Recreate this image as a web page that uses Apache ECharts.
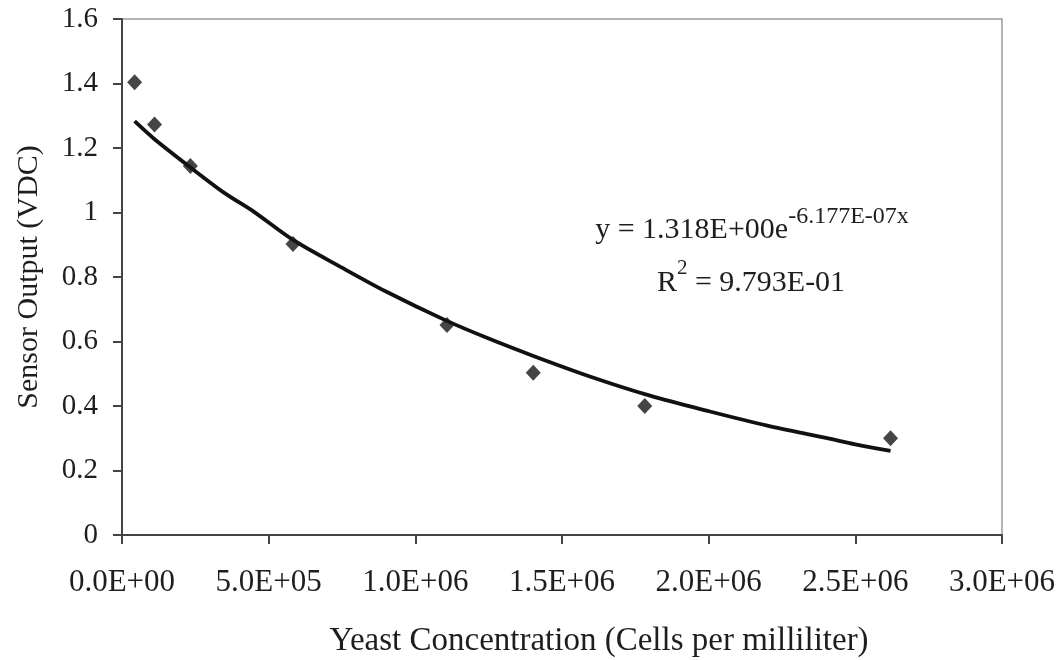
<!DOCTYPE html>
<html>
<head>
<meta charset="utf-8">
<script src="https://cdn.jsdelivr.net/npm/echarts@6/dist/echarts.min.js"></script>
<style>
html,body{margin:0;padding:0;background:#fff;}
#chart{width:1063px;height:660px;}
</style>
</head>
<body>
<div id="chart"></div>
<script>
// Measured data points (x: cells per mL, y: VDC)
const concX = [43000, 111000, 233000, 583000, 1108000, 1402000, 1782000, 2620000];
const outputY = [1.404, 1.273, 1.144, 0.902, 0.651, 0.503, 0.400, 0.300];

// Trendline
const trendX = [43000, 110000, 233000, 350000, 450000, 583000, 750000, 900000, 1100000, 1250000, 1400000, 1600000, 1800000, 2000000, 2200000, 2400000, 2500000, 2620000];
const trendY = [1.283, 1.228, 1.140, 1.060, 1.002, 0.915, 0.829, 0.755, 0.667, 0.609, 0.556, 0.490, 0.432, 0.384, 0.339, 0.301, 0.281, 0.261];

const xTicks = {min: 0, max: 3000000, interval: 500000};
const yTicks = {min: 0, max: 1.6, interval: 0.2};

const xTitle = 'Yeast Concentration (Cells per milliliter)';
const yTitle = 'Sensor Output (VDC)';
const eqMain = 'y = 1.318E+00e';
const eqSup = '-6.177E-07x';
const r2Pre = 'R';
const r2Sup = '2';
const r2Post = ' = 9.793E-01';

const FONT = '"Liberation Serif", "Times New Roman", serif';
const TXT = '#1e1e1e';

function sci(v) {
  if (v === 0) return '0.0E+00';
  const e = Math.floor(Math.log10(Math.abs(v)) + 1e-9);
  const m = v / Math.pow(10, e);
  const sign = e < 0 ? '-' : '+';
  const ae = Math.abs(e);
  return m.toFixed(1) + 'E' + sign + (ae < 10 ? '0' + ae : '' + ae);
}

const chart = echarts.init(document.getElementById('chart'), null, {renderer: 'canvas'});
chart.setOption({
  animation: false,
  backgroundColor: '#fff',
  textStyle: {fontFamily: FONT},
  grid: {left: 122, right: 61, top: 19, bottom: 125, containLabel: false, outerBoundsMode: 'none',
         show: true, borderColor: '#9a9a9a', borderWidth: 1.5, backgroundColor: 'transparent'},
  graphic: [
    {
      type: 'text', x: 752, y: 230, z: 10,
      style: {
        text: '{m|' + eqMain + '}{s|' + eqSup + '}',
        align: 'center', verticalAlign: 'middle',
        rich: {
          m: {fontFamily: FONT, fontSize: 30, fill: TXT, lineHeight: 50, verticalAlign: 'middle'},
          s: {fontFamily: FONT, fontSize: 24, fill: TXT, lineHeight: 10, verticalAlign: 'top'}
        }
      }
    },
    {
      type: 'text', x: 751, y: 278, z: 10,
      style: {
        text: '{m|' + r2Pre + '}{s|' + r2Sup + '}{m|' + r2Post + '}',
        align: 'center', verticalAlign: 'middle',
        rich: {
          m: {fontFamily: FONT, fontSize: 30, fill: TXT, lineHeight: 40, verticalAlign: 'bottom'},
          s: {fontFamily: FONT, fontSize: 21, fill: TXT, lineHeight: 20, verticalAlign: 'top'}
        }
      }
    }
  ],
  xAxis: {
    type: 'value',
    min: xTicks.min, max: xTicks.max, interval: xTicks.interval,
    name: xTitle, nameLocation: 'middle', nameGap: 90,
    nameTextStyle: {fontFamily: FONT, fontSize: 33, color: TXT, padding: [0, 0, 0, 74]},
    axisLine: {show: true, onZero: false, lineStyle: {color: '#444', width: 2}},
    axisTick: {show: true, inside: false, length: 9, lineStyle: {color: '#444', width: 2}},
    axisLabel: {fontFamily: FONT, fontSize: 31, color: TXT, margin: 32, formatter: sci, hideOverlap: false},
    splitLine: {show: false}
  },
  yAxis: {
    type: 'value',
    min: yTicks.min, max: yTicks.max, interval: yTicks.interval,
    name: yTitle, nameLocation: 'middle', nameGap: 78, nameRotate: 90,
    nameTextStyle: {fontFamily: FONT, fontSize: 30, color: TXT},
    axisLine: {show: true, onZero: false, lineStyle: {color: '#444', width: 2}},
    axisTick: {show: true, inside: false, length: 9, lineStyle: {color: '#444', width: 2}},
    axisLabel: {fontFamily: FONT, fontSize: 29, color: TXT, margin: 24},
    splitLine: {show: false}
  },
  series: [
    {
      type: 'line',
      data: trendX.map((x, i) => [x, trendY[i]]),
      showSymbol: false,
      smooth: 0.3,
      lineStyle: {color: '#111', width: 3.8},
      z: 2
    },
    {
      type: 'scatter',
      data: concX.map((x, i) => [x, outputY[i]]),
      symbol: 'diamond',
      symbolSize: [15, 16],
      itemStyle: {color: '#161616'},
      z: 3
    }
  ]
});
</script>
</body>
</html>
